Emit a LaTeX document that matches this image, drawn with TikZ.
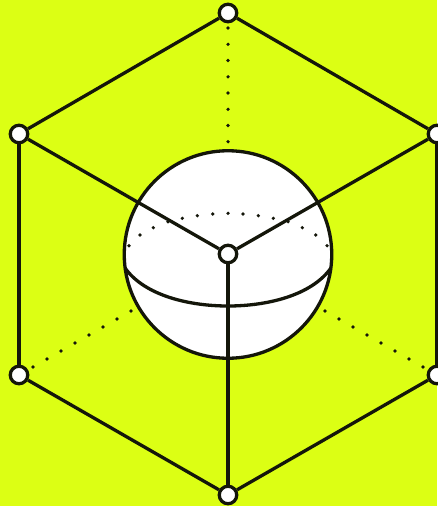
\documentclass[tikz,border=0pt]{standalone}
\definecolor{bg}{HTML}{DCFF14}
\definecolor{ink}{HTML}{14160A}
\tikzset{
  vertexnode/.style={circle,draw=ink,fill=white,line width=3.3pt,minimum size=17.5pt,inner sep=0pt},
  edgeline/.style={draw=ink,line width=3.3pt},
  dotmark/.style={fill=ink,draw=none}
}
\begin{document}
\begin{tikzpicture}[x=1pt,y=-1pt]
\path[fill=bg,use as bounding box] (0,0) rectangle (437,506);
% dotted hidden edges
\foreach \y in {28,44.3,60.5,76.8,93,109.3,125.5,141.7}
  \fill[dotmark] (228,\y) circle (1.8pt);
\foreach \x/\y in {33/367,47/359,61/351,75/343,89/335,103/327,117/319,131/311,
                   423/367,409/359,395/351,381/343,367/335,353/327,339/319,325/311}
  \fill[dotmark] (\x,\y) circle (1.8pt);
% sphere
\node[circle,draw=ink,fill=white,line width=3.3pt,minimum size=207.5pt,inner sep=0pt] (sphere) at (228,254.5) {};
% back dotted equator
\foreach \x/\y in {129/245.7,140/235,153.3/227.7,168/221.7,182.3/218.3,197.3/215.7,212.7/214,228/213.3,
                   243/214,258.3/215.7,273.3/218.3,288/221.7,302.3/227.7,315.7/235,327/245.7}
  \fill[dotmark] (\x,\y) circle (1.8pt);
% front equator
\coordinate (eqL) at (125,268);
\coordinate (eqR) at (331,268);
\draw[edgeline] (eqL) .. controls (145,296) and (190,306) .. (228,306) .. controls (266,306) and (311,296) .. (eqR);
% cube vertices
\node[vertexnode] (top) at (228,13) {};
\node[vertexnode] (lu) at (19,134) {};
\node[vertexnode] (ld) at (19,375) {};
\node[vertexnode] (bot) at (228,495) {};
\node[vertexnode] (ru) at (437,134) {};
\node[vertexnode] (rd) at (437,375) {};
\node[vertexnode] (mid) at (228,254) {};
\draw[edgeline] (top) -- (lu);
\draw[edgeline] (top) -- (ru);
\draw[edgeline] (lu) -- (ld);
\draw[edgeline] (ld) -- (bot);
\draw[edgeline] (bot) -- (rd);
\draw[edgeline] (ru) -- (rd);
\draw[edgeline] (mid) -- (lu);
\draw[edgeline] (mid) -- (ru);
\draw[edgeline] (mid) -- (bot);
\end{tikzpicture}
\end{document}
